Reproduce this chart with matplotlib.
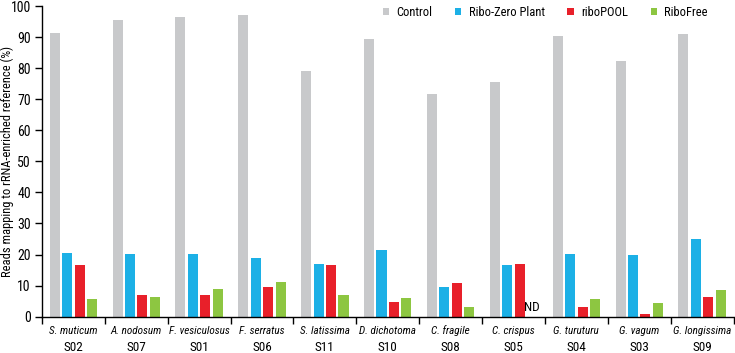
import matplotlib
matplotlib.use("Agg")
import matplotlib.pyplot as plt
import matplotlib.transforms as mtransforms
from matplotlib import font_manager as fm
import numpy as np

# the reference uses a condensed sans; take the narrowest one installed
names = {f.name for f in fm.fontManager.ttflist}
family, stretch = 'DejaVu Sans', 'condensed'
for cand in ['Roboto Condensed', 'Liberation Sans Narrow', 'Open Sans Condensed']:
    if cand in names:
        family, stretch = cand, 'normal'
        break
plt.rcParams['font.family'] = [family, 'DejaVu Sans']
plt.rcParams['font.stretch'] = stretch

species = ["S. muticum", "A. nodosum", "F. vesiculosus", "F. serratus", "S. latissima",
           "D. dichotoma", "C. fragile", "C. crispus", "G. turuturu", "G. vagum", "G. longissima"]
codes = ["S02", "S07", "S01", "S06", "S11", "S10", "S08", "S05", "S04", "S03", "S09"]

control = [91.3, 95.4, 96.5, 97.2, 79.1, 89.5, 71.6, 75.6, 90.5, 82.2, 90.9]
ribozero = [20.6, 20.3, 20.2, 18.8, 16.8, 21.6, 9.5, 16.7, 20.3, 19.8, 25.0]
ribopool = [16.6, 7.1, 7.0, 9.7, 16.5, 4.6, 10.8, 16.9, 3.0, 0.8, 6.2]
ribofree = [5.8, 6.4, 9.0, 11.2, 7.0, 6.1, 3.2, np.nan, 5.8, 4.3, 8.5]

series = [("Control", control, "#c8c9cb"),
          ("Ribo-Zero Plant", ribozero, "#1cb0e6"),
          ("riboPOOL", ribopool, "#e8202a"),
          ("RiboFree", ribofree, "#8dc641")]

fig = plt.figure(figsize=(7.35, 3.53), dpi=100)
ax = fig.add_axes([0.057, 0.103, 0.941, 0.88])

x = np.arange(len(species))
w = 0.16
step = 0.198
for k, (name, vals, col) in enumerate(series):
    ax.bar(x + (k - 1.5) * step, vals, width=w, color=col, label=name, linewidth=0)

# ND marker for missing RiboFree value
nd = int(np.where(np.isnan(ribofree))[0][0])
ax.text(nd + 1.5 * step, 1.0, "ND", ha="center", va="bottom", fontsize=9.5)

ax.set_xlim(-0.5, len(species) - 0.5)
ax.set_ylim(0, 100)
ax.set_yticks(range(0, 101, 10))
ax.set_xticks(np.arange(-0.5, len(species), 1.0))
ax.set_xticklabels([])
ax.tick_params(axis="x", length=5, width=1, direction="out")
ax.tick_params(axis="y", length=5, width=1, direction="out", labelsize=10, pad=3)
ax.spines["top"].set_visible(False)
ax.spines["right"].set_visible(False)
ax.spines["left"].set_linewidth(1)
ax.spines["bottom"].set_linewidth(1)
ax.set_ylabel("Reads mapping to rRNA-enriched reference (%)", fontsize=9, va="center")
ax.yaxis.set_label_coords(-0.05, 0.5)

trans = mtransforms.blended_transform_factory(ax.transData, ax.transAxes)
for i in range(len(species)):
    ax.text(i, -0.046, species[i], transform=trans, ha="center", va="center",
            fontsize=8, style="italic")
    ax.text(i, -0.1, codes[i], transform=trans, ha="center", va="center", fontsize=9.5)

ax.legend(loc="upper right", bbox_to_anchor=(0.963, 1.0), ncol=4, frameon=False,
          fontsize=9, handlelength=0.5, handleheight=0.5, columnspacing=1.8,
          handletextpad=0.6, borderpad=0, borderaxespad=0)

fig.savefig("out.png", dpi=100)
